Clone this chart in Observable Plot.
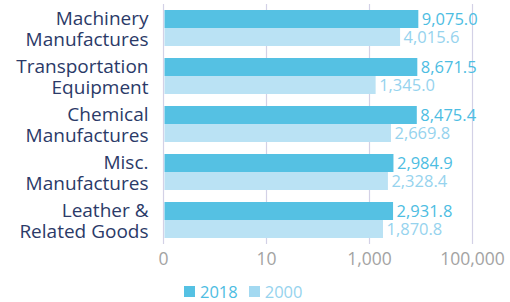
<!DOCTYPE html>
<html>
<head>
<meta charset="utf-8">
<script src="https://cdn.jsdelivr.net/npm/d3@7"></script>
<script src="https://cdn.jsdelivr.net/npm/@observablehq/plot@0.6"></script>
<style>
  body { margin: 0; background: #fff; font-family: "Open Sans", sans-serif; }
  #chart { width: 510px; }
  .legend { display: flex; align-items: center; padding-left: 184px; height: 30px; margin-top: 4px; font-size: 16.5px; }
  .legend .sw { width: 11px; height: 11px; display: inline-block; margin-right: 5px; }
  .legend .item { display: flex; align-items: center; margin-right: 11px; }
</style>
</head>
<body>
<div id="chart"></div>
<script>
const categories = [
  "Machinery\nManufactures",
  "Transportation\nEquipment",
  "Chemical\nManufactures",
  "Misc.\nManufactures",
  "Leather &\nRelated Goods"
];
const years = ["2018", "2000"];
const values2018 = [9075.0, 8671.5, 8475.4, 2984.9, 2931.8];
const values2000 = [4015.6, 1345.0, 2669.8, 2328.4, 1870.8];
const xTicks = [0.1, 10, 1000, 100000];
const xTickLabels = ["0", "10", "1,000", "100,000"];
const barColors = ["#55c1e3", "#bae2f4"];
const labelColors = ["#4dbde2", "#96d3ee"];

const rows = categories.flatMap((c, i) => [
  {category: c, year: years[0], value: values2018[i]},
  {category: c, year: years[1], value: values2000[i]}
]);
const fmt = d3.format(",.1f");
const xMin = xTicks[0];

const chart = Plot.plot({
  width: 510,
  height: 272,
  marginLeft: 163,
  marginRight: 38,
  marginTop: 4,
  marginBottom: 28,
  style: {fontFamily: "'Open Sans', sans-serif", background: "#fff"},
  x: {type: "log", domain: [xTicks[0], xTicks[xTicks.length - 1]], axis: null},
  fy: {domain: categories, padding: 0, axis: null},
  y: {domain: years, paddingInner: 0, paddingOuter: 1/3, axis: null},
  color: {domain: years, range: barColors},
  marks: [
    Plot.gridX(xTicks, {stroke: "#d3d1e6", strokeOpacity: 1, strokeWidth: 1.2}),
    Plot.barX(rows, {fy: "category", y: "year", x1: xMin, x2: "value", fill: "year", insetLeft: 1.5}),
    Plot.text(rows.filter(d => d.year === years[0]), {fy: "category", y: "year", x: "value", text: d => fmt(d.value), textAnchor: "start", dx: 3, fill: labelColors[0], fontSize: 16.5}),
    Plot.text(rows.filter(d => d.year === years[1]), {fy: "category", y: "year", x: "value", text: d => fmt(d.value), textAnchor: "start", dx: 3, fill: labelColors[1], fontSize: 16.5}),
    Plot.axisX(xTicks, {tickFormat: d => xTickLabels[xTicks.indexOf(d)], tickSize: 0, tickPadding: 8, fontSize: 17.5, color: "#a3a3a3", label: null}),
    Plot.axisFy({anchor: "left", tickSize: 0, tickPadding: 15, fontSize: 19, color: "#2b3a68", lineHeight: 1.12, label: null})
  ]
});
document.getElementById("chart").appendChild(chart);

const legend = document.createElement("div");
legend.className = "legend";
years.forEach((y, i) => {
  const item = document.createElement("div");
  item.className = "item";
  const sw = document.createElement("span");
  sw.className = "sw";
  sw.style.background = i === 0 ? barColors[0] : "#a3d9f1";
  const t = document.createElement("span");
  t.textContent = y;
  t.style.color = labelColors[i];
  item.appendChild(sw);
  item.appendChild(t);
  legend.appendChild(item);
});
document.getElementById("chart").appendChild(legend);
</script>
</body>
</html>
